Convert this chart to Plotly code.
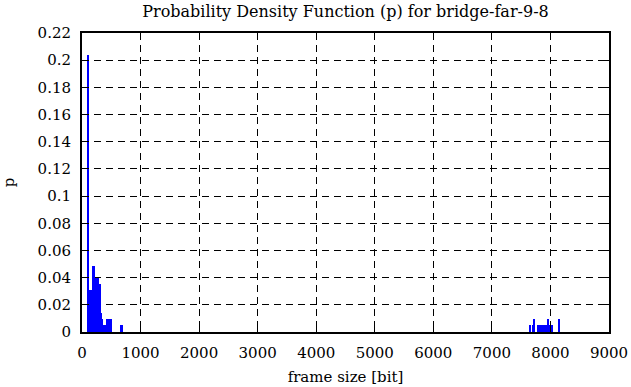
import plotly.graph_objects as go

# frame size bin centers [bit] and probability density values
frame_size = [94, 111, 128, 145, 162, 179, 196, 213, 230, 247, 264, 281, 299, 316,
              333, 350, 367, 384, 401, 418, 435, 452, 469, 486, 503, 674, 691,
              7651, 7703, 7720, 7788, 7805, 7822, 7839, 7856, 7873, 7890, 7907,
              7924, 7941, 7958, 7976, 7993, 8010, 8027, 8146]
p_values = [0.204, 0.204, 0.0186, 0.031, 0.031, 0.0267, 0.0485, 0.0485, 0.0395, 0.0353,
            0.0395, 0.0395, 0.0353, 0.031, 0.0137, 0.0093, 0.005, 0.005, 0.005, 0.005,
            0.0095, 0.0095, 0.0095, 0.0095, 0.0095, 0.005, 0.005,
            0.005, 0.005, 0.0095, 0.005, 0.005, 0.005, 0.005, 0.005, 0.005, 0.005, 0.005,
            0.005, 0.005, 0.0095, 0.005, 0.005, 0.005, 0.005, 0.0095]

x_ticks = [0, 1000, 2000, 3000, 4000, 5000, 6000, 7000, 8000, 9000]
y_ticks = [0, 0.02, 0.04, 0.06, 0.08, 0.1, 0.12, 0.14, 0.16, 0.18, 0.2, 0.22]
y_tick_labels = ["0", "0.02", "0.04", "0.06", "0.08", "0.1", "0.12", "0.14",
                 "0.16", "0.18", "0.2", "0.22"]

font_family = "DejaVu Serif"
fsize = 15

fig = go.Figure()
fig.add_trace(go.Bar(x=frame_size, y=p_values, width=17.06,
                     marker=dict(color="#0000ff", line=dict(width=0))))

fig.update_layout(
    width=631, height=387,
    margin=dict(l=82, r=22, t=33, b=55),
    paper_bgcolor="white", plot_bgcolor="white",
    bargap=0, showlegend=False,
    font=dict(family=font_family, size=fsize, color="black"),
    title=dict(text="Probability Density Function (p) for bridge-far-9-8",
               x=(82 + 609) / 2 / 631, xanchor="center", y=1 - 11 / 387, yanchor="middle",
               font=dict(family=font_family, size=16, color="black")),
)

axis_common = dict(
    showline=True, linecolor="black", linewidth=2, mirror="ticks",
    ticks="inside", ticklen=7, tickwidth=1, tickcolor="black",
    showgrid=True, gridcolor="black", gridwidth=1, griddash="7px,5px",
    zeroline=False, automargin=False,
    tickfont=dict(family=font_family, size=fsize, color="black"),
)

fig.update_xaxes(range=[0, 9000], tickvals=x_ticks, ticklabelstandoff=6,
                 title=dict(text="frame size [bit]", standoff=10,
                            font=dict(family=font_family, size=fsize)),
                 **axis_common)
fig.update_yaxes(range=[0, 0.22], tickvals=y_ticks, ticktext=y_tick_labels,
                 ticklabelstandoff=6,
                 title=dict(text="p", standoff=19,
                            font=dict(family=font_family, size=fsize)),
                 **axis_common)

fig.write_html("out.html", config={"displayModeBar": False},
               post_script="document.body.style.margin='0';document.body.style.overflow='hidden';")
